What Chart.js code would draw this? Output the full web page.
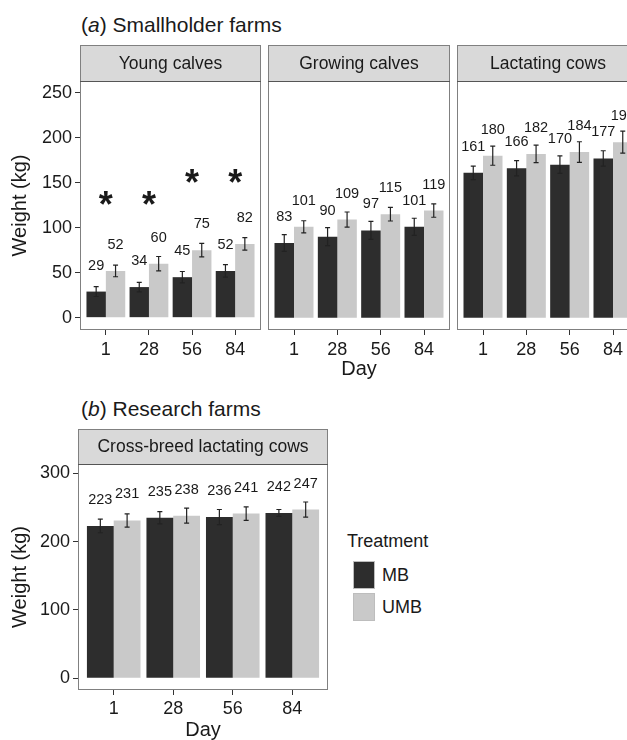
<!DOCTYPE html>
<html>
<head>
<meta charset="utf-8">
<script src="https://cdn.jsdelivr.net/npm/chart.js@4.4.1/dist/chart.umd.min.js"></script>
<style>
  body { margin: 0; width: 627px; height: 740px; overflow: hidden; background: #fff; position: relative;
         font-family: "Liberation Sans", Arial, sans-serif; color: #1a1a1a; }
  canvas, .abs { position: absolute; }
  .ptitle { font-size: 21px; line-height: 25px; white-space: nowrap; }
  .leg { font-size: 18px; line-height: 22px; white-space: nowrap; }
  .sw { position: absolute; width: 22px; height: 28px; box-sizing: border-box; border: 1px solid #bdbdbd; }
</style>
</head>
<body>
<div class="abs ptitle" style="left:81px;top:12px">(<i>a</i>) Smallholder farms</div>
<div class="abs ptitle" style="left:81px;top:396px">(<i>b</i>) Research farms</div>

<canvas id="young" width="263" height="390" style="left:0;top:0"></canvas>
<canvas id="growing" width="186" height="390" style="left:266px;top:0"></canvas>
<canvas id="lactating" width="186" height="390" style="left:455px;top:0"></canvas>
<canvas id="cross" width="331" height="370" style="left:0;top:380px"></canvas>

<div id="legend" class="abs" style="left:347px;top:530px;width:120px;height:100px"></div>

<script>
const days = ["1", "28", "56", "84"];
const treatments = ["MB", "UMB"];
const colors = ["#2d2d2d", "#c9c9c9"];

// (a) smallholder farms
const youngMB = [29, 34, 45, 52];
const youngUMB = [52, 60, 75, 82];
const youngMBErr = [5.5, 5.3, 6.3, 7];
const youngUMBErr = [6.5, 8, 7.5, 7];
const youngStars = [133, 133, 157, 157];

const growingMB = [83, 90, 97, 101];
const growingUMB = [101, 109, 115, 119];
const growingMBErr = [9.3, 10, 10, 9.5];
const growingUMBErr = [6.7, 8.4, 7.6, 7.4];

const lactMB = [161, 166, 170, 177];
const lactUMB = [180, 182, 184, 195];
const lactMBErr = [7.5, 8.5, 9.7, 8.5];
const lactUMBErr = [10.6, 9.7, 11.5, 12.2];

// (b) research farms
const crossMB = [223, 235, 236, 242];
const crossUMB = [231, 238, 241, 247];
const crossMBErr = [10, 9, 11, 5];
const crossUMBErr = [9.7, 11, 10, 11];

const yTicksA = [0, 50, 100, 150, 200, 250];
const yTicksB = [0, 100, 200, 300];

const FONT = "'Liberation Sans', Arial, sans-serif";
Chart.defaults.font.family = FONT;
Chart.defaults.color = "#1a1a1a";

// strip, frame, error bars, value labels and stars
const panelDecor = {
  id: "panelDecor",
  afterDatasetsDraw(chart, args, opts) {
    const { ctx, scales: { x, y } } = chart;
    ctx.save();
    chart.data.datasets.forEach((ds, i) => {
      chart.getDatasetMeta(i).data.forEach((bar, j) => {
        const v = ds.data[j].y, e = ds.err[j];
        const top = y.getPixelForValue(v + e), bot = y.getPixelForValue(v - e);
        ctx.strokeStyle = "#222";
        ctx.lineWidth = 1.2;
        ctx.beginPath();
        ctx.moveTo(bar.x, top); ctx.lineTo(bar.x, bot);
        ctx.moveTo(bar.x - 2.5, top); ctx.lineTo(bar.x + 2.5, top);
        ctx.moveTo(bar.x - 2.5, bot); ctx.lineTo(bar.x + 2.5, bot);
        ctx.stroke();
        ctx.fillStyle = "#1a1a1a";
        ctx.font = "14.5px " + FONT;
        ctx.textAlign = "center";
        ctx.textBaseline = "middle";
        ctx.fillText(String(v), bar.x, bar.y - 26);
      });
    });
    if (opts.stars) {
      ctx.font = "bold 36px " + FONT;
      ctx.fillStyle = "#1a1a1a";
      ctx.textAlign = "center";
      ctx.textBaseline = "alphabetic";
      const m = ctx.measureText("*");
      const shift = (m.actualBoundingBoxAscent - m.actualBoundingBoxDescent) / 2;
      opts.stars.forEach((s, j) => {
        ctx.fillText("*", x.getPixelForValue(j + 1), y.getPixelForValue(s) + shift);
      });
    }
    ctx.restore();
  },
  afterDraw(chart, args, opts) {
    const { ctx, chartArea: a } = chart;
    const st = a.top - opts.stripH;
    ctx.save();
    ctx.fillStyle = "#d9d9d9";
    ctx.fillRect(a.left, st, a.right - a.left, opts.stripH);
    ctx.strokeStyle = "#808080";
    ctx.lineWidth = 1;
    ctx.strokeRect(a.left + 0.5, st + 0.5, a.right - a.left - 1, a.bottom - st - 1);
    ctx.strokeStyle = "#555";
    ctx.beginPath();
    ctx.moveTo(a.left, a.top + 0.5);
    ctx.lineTo(a.right, a.top + 0.5);
    ctx.stroke();
    ctx.fillStyle = "#1a1a1a";
    ctx.font = "17.5px " + FONT;
    ctx.textAlign = "center";
    ctx.textBaseline = "middle";
    ctx.fillText(opts.strip, (a.left + a.right) / 2, st + opts.stripH / 2 + 1);
    ctx.restore();
  }
};

function makePanel(id, p) {
  const tickGrid = { drawOnChartArea: false, drawTicks: true, offset: false, tickLength: 5, tickColor: "#333", tickWidth: 1 };
  return new Chart(document.getElementById(id), {
    type: "bar",
    data: {
      datasets: [
        { label: treatments[0], data: p.mb.map((v, i) => ({ x: i + 1, y: v })), err: p.mbErr, backgroundColor: colors[0] },
        { label: treatments[1], data: p.umb.map((v, i) => ({ x: i + 1, y: v })), err: p.umbErr, backgroundColor: colors[1] }
      ]
    },
    options: {
      responsive: false,
      animation: false,
      devicePixelRatio: 1,
      categoryPercentage: 0.9,
      barPercentage: 1,
      borderWidth: 0,
      layout: { padding: p.pad },
      plugins: {
        legend: { display: false },
        tooltip: { enabled: false },
        panelDecor: { strip: p.strip, stripH: p.stripH, stars: p.stars }
      },
      scales: {
        x: {
          type: "linear",
          min: 0.4,
          max: 4.6,
          offset: false,
          afterBuildTicks: s => { s.ticks = days.map((d, i) => ({ value: i + 1 })); },
          afterFit: s => { s.height = p.xH; },
          ticks: { callback: v => days[v - 1], font: { size: 18 }, padding: p.xTickPad, maxRotation: 0, includeBounds: false, stepSize: 1 },
          grid: tickGrid,
          border: { display: false },
          title: { display: !!p.xTitle, text: "Day", font: { size: 20 }, padding: { top: 0, bottom: p.xTitlePad } }
        },
        y: {
          display: p.showY,
          min: p.yMin,
          max: p.yMax,
          afterBuildTicks: s => { s.ticks = p.yTicks.map(v => ({ value: v })); },
          afterFit: s => { s.width = p.showY ? p.yW : 0; },
          ticks: { font: { size: 18 }, padding: 3 },
          grid: Object.assign({}, tickGrid),
          border: { display: false },
          title: { display: true, text: "Weight (kg)", font: { size: 20 }, padding: { top: 8, bottom: 0 } }
        }
      }
    },
    plugins: [panelDecor]
  });
}

const rowA = { yMin: -13.7, yMax: 263, yTicks: yTicksA, stripH: 36, xH: 60, xTickPad: 4, xTitlePad: 9 };

makePanel("young", Object.assign({}, rowA, {
  strip: "Young calves", mb: youngMB, umb: youngUMB, mbErr: youngMBErr, umbErr: youngUMBErr,
  stars: youngStars, showY: true, yW: 80, pad: { top: 81, right: 2, bottom: 0, left: 0 }
}));
makePanel("growing", Object.assign({}, rowA, {
  strip: "Growing calves", mb: growingMB, umb: growingUMB, mbErr: growingMBErr, umbErr: growingUMBErr,
  showY: false, xTitle: true, pad: { top: 81, right: 2, bottom: 0, left: 2 }
}));
makePanel("lactating", Object.assign({}, rowA, {
  strip: "Lactating cows", mb: lactMB, umb: lactUMB, mbErr: lactMBErr, umbErr: lactUMBErr,
  showY: false, pad: { top: 81, right: 2, bottom: 0, left: 2 }
}));
makePanel("cross", {
  strip: "Cross-breed lactating cows", mb: crossMB, umb: crossUMB, mbErr: crossMBErr, umbErr: crossUMBErr,
  yMin: -17.1, yMax: 313.6, yTicks: yTicksB, stripH: 35, xH: 60, xTickPad: 3, xTitlePad: 8,
  showY: true, yW: 78, xTitle: true, pad: { top: 84, right: 3, bottom: 0, left: 0 }
});

// legend
const leg = document.getElementById("legend");
let html = '<div class="leg abs" style="left:0;top:0">Treatment</div>';
treatments.forEach((t, i) => {
  const top = 31 + i * 32;
  html += `<div class="sw" style="left:6px;top:${top}px;background:${colors[i]}"></div>`;
  html += `<div class="leg abs" style="left:35px;top:${top + 3}px">${t}</div>`;
});
leg.innerHTML = html;
</script>
</body>
</html>
